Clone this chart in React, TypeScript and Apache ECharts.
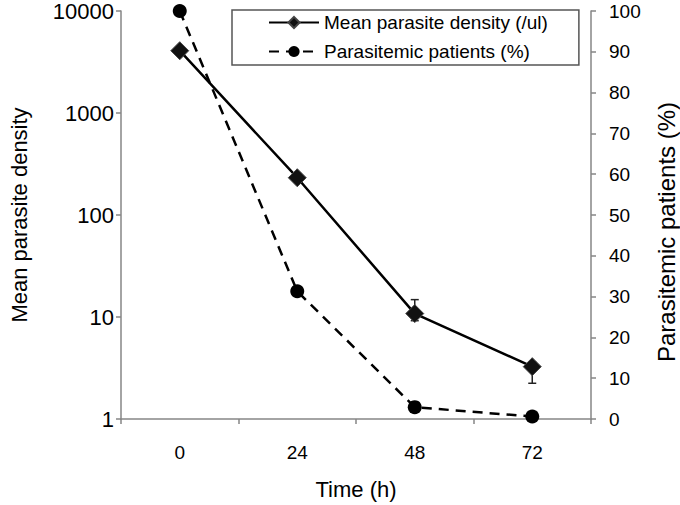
import React, { useEffect, useRef } from "react";
import * as echarts from "echarts";

const timeLabels = ["0", "24", "48", "72"];
const meanDensity = [4080, 232, 10.8, 3.26];
const densityLow = [4080, 215, 9.2, 2.24];
const densityHigh = [4080, 255, 14.8, 3.6];
const parasitemicPct = [100, 31.3, 2.9, 0.6];
const densityTicks = [1, 10, 100, 1000, 10000];

const FONT = "'Liberation Sans', Arial, sans-serif";

export default function App() {
  const ref = useRef<HTMLDivElement>(null);
  useEffect(() => {
    if (!ref.current) return;
    const chart = echarts.init(ref.current, undefined, { renderer: "svg" });
    const errData = timeLabels.map((_, i) => [i, densityLow[i], densityHigh[i]]);
    chart.setOption({
      animation: false,
      textStyle: { fontFamily: FONT },
      grid: { left: 103, right: 89, top: 7, bottom: 79, containLabel: false },
      legend: {
        orient: "vertical",
        left: 232,
        top: 10,
        padding: [3, 31, 4, 36],
        itemGap: 10,
        itemWidth: 50,
        itemHeight: 14,
        borderColor: "#555",
        borderWidth: 1.5,
        textStyle: { fontSize: 19, color: "#000", fontFamily: FONT },
        data: ["Mean parasite density (/ul)", "Parasitemic patients (%)"],
      },
      graphic: [
        {
          type: "text",
          x: 666,
          y: 232,
          rotation: Math.PI / 2,
          style: {
            text: "Parasitemic patients (%)",
            fontSize: 24,
            fontFamily: FONT,
            fill: "#000",
            align: "center",
            verticalAlign: "middle",
          },
        },
      ],
      xAxis: {
        type: "category",
        data: timeLabels,
        boundaryGap: true,
        name: "Time (h)",
        nameLocation: "middle",
        nameGap: 59,
        nameTextStyle: { fontSize: 22, color: "#000", fontFamily: FONT },
        axisLine: { lineStyle: { color: "#868686", width: 1.5 } },
        axisTick: { show: true, alignWithLabel: false, length: 5, lineStyle: { color: "#868686", width: 1.5 } },
        axisLabel: { fontSize: 19, color: "#000", margin: 24, fontFamily: FONT },
        splitLine: { show: false },
      },
      yAxis: [
        {
          type: "log",
          logBase: 10,
          min: 1,
          max: 10000,
          position: "left",
          name: "Mean parasite density",
          nameLocation: "middle",
          nameGap: 91,
          nameTextStyle: { fontSize: 22, color: "#000", fontFamily: FONT },
          axisLine: { show: true, lineStyle: { color: "#868686", width: 1.5 } },
          axisTick: { show: true, length: 5, lineStyle: { color: "#868686", width: 1.5 } },
          axisLabel: {
            fontSize: 22,
            color: "#000",
            margin: 7,
            fontFamily: FONT,
            formatter: (v: number) => {
              const r = densityTicks.find((t) => Math.abs(t - v) / t < 1e-6);
              return r !== undefined ? String(r) : "";
            },
          },
          splitLine: { show: false },
        },
        {
          type: "value",
          min: 0,
          max: 100,
          interval: 10,
          position: "right",
          axisLine: { show: true, lineStyle: { color: "#868686", width: 1.5 } },
          axisTick: { show: true, length: 5, lineStyle: { color: "#868686", width: 1.5 } },
          axisLabel: { fontSize: 19, color: "#000", margin: 18, fontFamily: FONT },
          splitLine: { show: false },
        },
      ],
      series: [
        {
          type: "custom",
          name: "errorbars",
          yAxisIndex: 0,
          z: 1,
          data: errData,
          encode: { x: 0, y: [1, 2] },
          renderItem: (params: any, api: any) => {
            const x = api.value(0);
            const lo = api.coord([x, api.value(1)]);
            const hi = api.coord([x, api.value(2)]);
            const hw = 4;
            const st = { stroke: "#222", lineWidth: 1.5 };
            return {
              type: "group",
              children: [
                { type: "line", shape: { x1: lo[0], y1: lo[1], x2: hi[0], y2: hi[1] }, style: st },
                { type: "line", shape: { x1: lo[0] - hw, y1: lo[1], x2: lo[0] + hw, y2: lo[1] }, style: st },
                { type: "line", shape: { x1: hi[0] - hw, y1: hi[1], x2: hi[0] + hw, y2: hi[1] }, style: st },
              ],
            };
          },
        },
        {
          type: "line",
          name: "Mean parasite density (/ul)",
          yAxisIndex: 0,
          z: 3,
          data: meanDensity,
          symbol: "diamond",
          symbolSize: 18,
          lineStyle: { color: "#000", width: 2.5, type: "solid" },
          itemStyle: { color: "#111", borderColor: "#444", borderWidth: 1 },
        },
        {
          type: "line",
          name: "Parasitemic patients (%)",
          yAxisIndex: 1,
          z: 2,
          data: parasitemicPct,
          symbol: "circle",
          symbolSize: 14,
          lineStyle: { color: "#000", width: 2.5, type: [10, 7] },
          itemStyle: { color: "#000" },
        },
      ],
    });
    return () => chart.dispose();
  }, []);
  return <div ref={ref} style={{ width: 680, height: 505, position: "absolute", left: 0, top: 0, background: "#fff" }} />;
}
